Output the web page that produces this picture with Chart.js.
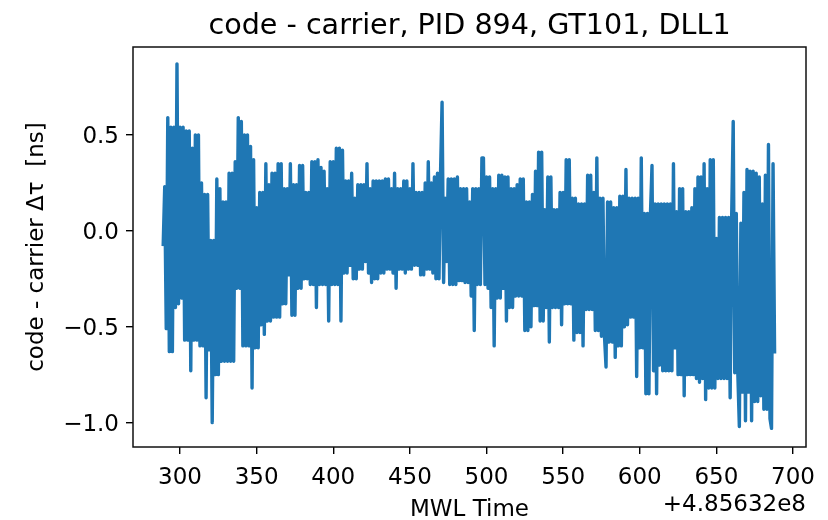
<!DOCTYPE html>
<html>
<head>
<meta charset="utf-8">
<script src="https://cdn.jsdelivr.net/npm/chart.js@4.4.0/dist/chart.umd.min.js"></script>
<style>
  html, body { margin: 0; padding: 0; background: #fff; }
  #wrap { width: 828px; height: 520px; }
</style>
</head>
<body>
<div id="wrap"><canvas id="chart" width="828" height="520"></canvas></div>
<script>
// labels
const chartTitle = 'code - carrier, PID 894, GT101, DLL1';
const xLabel = 'MWL Time';
const yLabel = 'code - carrier \u0394\u03c4  [ns]';
const xOffsetText = '+4.85632e8';

// axes
const xTicks = [300, 350, 400, 450, 500, 550, 600, 650, 700];
const yTicks = [-1.0, -0.5, 0.0, 0.5];
const xRange = [269.3, 708.5];
const yRange = [-1.127, 0.958];

// one sample per second, first sample at startTime (relative to the offset)
const startTime = 289;
const delta = [
  -0.08, 0.23, -0.51, 0.59, -0.63, 0.54, -0.63, 0.54, -0.40, 0.87,   // 289
  -0.38, 0.54, -0.35, 0.54, -0.57, 0.52, -0.57, 0.52, -0.73, 0.43,   // 299
  -0.57, 0.50, -0.57, 0.50, -0.60, 0.25, -0.60, 0.19, -0.87, 0.19,   // 309
  -0.62, -0.05, -1.00, -0.05, -0.75, 0.27, -0.75, 0.22, -0.68, 0.15, // 319
  -0.68, 0.15, -0.68, 0.30, -0.68, 0.30, -0.68, 0.36, -0.30, 0.59,   // 329
  -0.30, 0.57, -0.60, 0.50, -0.60, 0.50, -0.60, 0.44, -0.82, 0.37,   // 339
  -0.61, 0.12, -0.61, 0.20, -0.49, 0.20, -0.54, 0.35, -0.47, 0.24,   // 349
  -0.47, 0.30, -0.45, 0.30, -0.45, 0.35, -0.45, 0.35, -0.38, 0.22,   // 359
  -0.38, 0.22, -0.23, 0.35, -0.44, 0.24, -0.44, 0.24, -0.30, 0.34,   // 369
  -0.30, 0.34, -0.25, 0.20, -0.25, 0.20, -0.28, 0.36, -0.28, 0.36,   // 379
  -0.40, 0.37, -0.28, 0.33, -0.28, 0.31, -0.28, 0.22, -0.47, 0.36,   // 389
  -0.28, 0.36, -0.28, 0.43, -0.28, 0.43, -0.47, 0.42, -0.22, 0.26,   // 399
  -0.22, 0.26, -0.18, 0.30, -0.25, 0.17, -0.25, 0.24, -0.20, 0.24,   // 409
  -0.20, 0.24, -0.16, 0.35, -0.22, 0.22, -0.27, 0.26, -0.25, 0.26,   // 419
  -0.25, 0.26, -0.22, 0.26, -0.22, 0.27, -0.20, 0.27, -0.20, 0.22,   // 429
  -0.22, 0.30, -0.30, 0.22, -0.20, 0.22, -0.20, 0.26, -0.22, 0.26,   // 439
  -0.20, 0.22, -0.20, 0.35, -0.18, 0.20, -0.18, 0.20, -0.23, 0.20,   // 449
  -0.23, 0.25, -0.20, 0.36, -0.20, 0.25, -0.22, 0.28, -0.25, 0.30,   // 459
  -0.25, 0.30, 0.67, -0.27, 0.17, -0.16, 0.27, -0.28, 0.27, -0.28,   // 469
  0.27, -0.28, 0.28, -0.26, 0.22, -0.26, 0.22, -0.27, 0.22, -0.27,   // 479
  0.15, -0.34, 0.22, -0.52, 0.22, -0.28, 0.22, -0.28, 0.38, 0.38,    // 489
  -0.28, 0.28, -0.30, 0.28, -0.40, 0.22, -0.60, 0.22, -0.35, 0.29,   // 499
  -0.35, 0.29, -0.30, 0.28, -0.47, 0.28, -0.40, 0.22, -0.40, 0.22,   // 509
  -0.34, 0.24, -0.34, 0.27, -0.34, 0.27, -0.52, 0.15, -0.52, 0.15,   // 519
  -0.50, 0.19, -0.39, 0.31, -0.39, 0.41, -0.47, 0.41, -0.47, 0.11,   // 529
  -0.40, 0.28, -0.58, 0.28, -0.40, 0.11, -0.40, 0.11, -0.40, 0.20,   // 539
  -0.49, 0.20, -0.38, 0.37, -0.38, 0.37, -0.38, 0.17, -0.57, 0.17,   // 549
  -0.53, 0.14, -0.53, 0.14, -0.60, 0.14, -0.41, 0.29, -0.41, 0.29,   // 559
  -0.41, 0.20, -0.52, 0.38, -0.52, 0.17, -0.55, 0.17, -0.55, -0.71,  // 569
  0.15, -0.58, 0.15, -0.58, 0.12, -0.66, 0.12, -0.60, 0.18, -0.60,   // 579
  0.18, -0.50, 0.32, -0.49, 0.17, -0.45, 0.17, -0.45, 0.17, -0.76,   // 589
  0.17, -0.61, 0.38, -0.61, 0.09, -0.85, 0.09, -0.85, 0.09, 0.34,    // 599
  -0.73, 0.14, -0.85, 0.14, -0.70, 0.14, -0.73, 0.14, -0.73, 0.14,   // 609
  -0.73, 0.14, -0.73, 0.35, -0.61, 0.10, -0.75, 0.22, -0.75, 0.22,   // 619
  -0.86, 0.10, -0.75, 0.10, -0.75, 0.12, -0.75, 0.22, -0.77, 0.28,   // 629
  -0.79, 0.28, -0.77, 0.35, -0.88, 0.22, -0.82, 0.37, -0.82, 0.37,   // 639
  -0.82, -0.04, -0.77, 0.07, -0.77, 0.07, -0.77, 0.07, -0.77, 0.07,  // 649
  -0.87, 0.08, 0.57, -0.74, 0.09, -0.74, -1.02, 0.04, -0.84, 0.20,   // 659
  -0.99, 0.32, -0.84, 0.31, -0.99, 0.31, -0.89, 0.30, -0.89, 0.28,   // 669
  -0.86, 0.14, -0.93, 0.29, -0.93, 0.45, -0.98, -1.03, 0.35, -0.64   // 679
];

const FONT = '"DejaVu Sans", "Liberation Sans", sans-serif';

function fmtTick(v) {
  return v.toFixed(1).replace('-', '\u2212');
}

function drawText(ctx, text, x, y, size, align, rotate) {
  ctx.save();
  ctx.font = size + 'px ' + FONT;
  ctx.fillStyle = '#000';
  ctx.textBaseline = 'alphabetic';
  ctx.textAlign = align;
  ctx.translate(x, y);
  if (rotate) ctx.rotate(-Math.PI / 2);
  ctx.fillText(text, 0, 0);
  ctx.restore();
}

// frame + all the text (title, tick labels, axis labels, offset)
const decorations = {
  id: 'decorations',
  afterDatasetsDraw(chart) {
    const { ctx, chartArea: a } = chart;
    ctx.save();
    ctx.strokeStyle = '#111';
    ctx.lineWidth = 1.5;
    ctx.strokeRect(a.left, a.top, a.right - a.left, a.bottom - a.top);
    ctx.restore();
  },
  afterDraw(chart) {
    const { ctx, chartArea: a, scales } = chart;
    const cx = (a.left + a.right) / 2;
    const cy = (a.top + a.bottom) / 2;

    drawText(ctx, chartTitle, cx, 34, 28.6, 'center');

    xTicks.forEach(v => {
      drawText(ctx, String(v), scales.x.getPixelForValue(v), a.bottom + 37, 23, 'center');
    });
    yTicks.forEach(v => {
      drawText(ctx, fmtTick(v), a.left - 14, scales.y.getPixelForValue(v) + 8.3, 23, 'right');
    });

    drawText(ctx, xLabel, cx, 516, 23, 'center');
    drawText(ctx, xOffsetText, a.right, 511, 23, 'right');
    drawText(ctx, yLabel, 43, cy, 23, 'center', true);
  }
};

const points = delta.map((v, i) => ({ x: startTime + i, y: v }));

new Chart(document.getElementById('chart'), {
  type: 'line',
  data: {
    datasets: [{
      data: points,
      borderColor: '#1f77b4',
      borderWidth: 3.4,
      borderJoinStyle: 'round',
      pointRadius: 0,
      tension: 0,
      fill: false
    }]
  },
  options: {
    responsive: false,
    animation: false,
    devicePixelRatio: 1,
    layout: { padding: { left: 0, right: 22, top: 47, bottom: 0 } },
    plugins: {
      legend: { display: false },
      title: { display: false },
      tooltip: { enabled: false }
    },
    scales: {
      x: {
        type: 'linear',
        min: xRange[0],
        max: xRange[1],
        afterBuildTicks: s => { s.ticks = xTicks.map(v => ({ value: v })); },
        afterFit: s => { s.height = 73; },
        ticks: { display: false },
        grid: { drawOnChartArea: false, drawTicks: true, tickLength: 7, color: '#000', lineWidth: 1.4 },
        border: { display: false }
      },
      y: {
        type: 'linear',
        min: yRange[0],
        max: yRange[1],
        afterBuildTicks: s => { s.ticks = yTicks.map(v => ({ value: v })); },
        afterFit: s => { s.width = 133; },
        ticks: { display: false },
        grid: { drawOnChartArea: false, drawTicks: true, tickLength: 7, color: '#000', lineWidth: 1.4 },
        border: { display: false }
      }
    }
  },
  plugins: [decorations]
});
</script>
</body>
</html>
